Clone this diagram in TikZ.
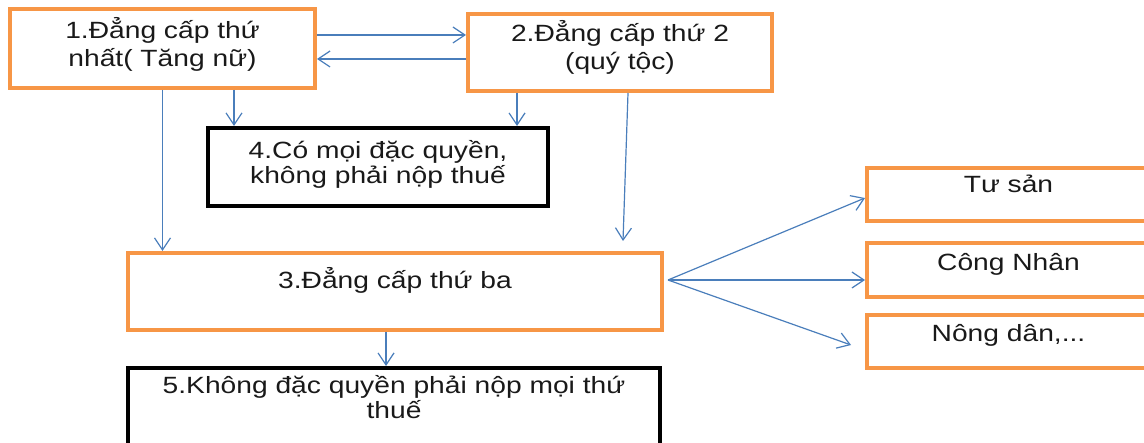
\documentclass[tikz,border=0pt]{standalone}
\usepackage{fontspec}
\setmainfont[FakeStretch=1.2]{Liberation Sans}
\usetikzlibrary{arrows.meta}

\definecolor{boxorange}{HTML}{F79646}
\definecolor{arrowblue}{HTML}{4A7EBB}

\begin{document}
\begin{tikzpicture}[x=1pt,y=-1pt,
        every node/.style={font=\fontsize{23.5}{28}\selectfont, text=black!90, align=center, inner sep=0pt},
        obox/.style={draw=boxorange, line width=4pt, rectangle, minimum width=#1},
        kbox/.style={draw=black, line width=4pt, rectangle, minimum width=#1},
        lift/.style 2 args={text height=#1, text depth=#2},
        link/.style={draw=arrowblue, line width=1.2pt, -{Straight Barb[length=12pt,width=16pt]}}]
        \useasboundingbox (0,0) rectangle (1144,443);
        \node[obox=305pt, minimum height=79pt, lift={42pt}{5pt}] (dc1) at (162.5,48.5) {1.Đẳng cấp thứ\\nhất( Tăng nữ)};
        \node[obox=304pt, minimum height=77pt, lift={40pt}{5pt}] (dc2) at (620,52.5) {2.Đẳng cấp thứ 2\\(quý tộc)};
        \node[kbox=340pt, minimum height=78pt, lift={39pt}{5pt}] (quyen4) at (378,167) {4.Có mọi đặc quyền,\\[-3pt]không phải nộp thuế};
        \node[obox=534pt, minimum height=77pt, lift={18pt}{23pt}] (dc3) at (395,291.5) {3.Đẳng cấp thứ ba};
        \node[kbox=532pt, minimum height=92pt, lift={15pt}{5pt}] (thue5) at (394,414) {5.Không đặc quyền phải nộp mọi thứ\\[-3pt]thuế};
        \node[obox=283pt, minimum height=53pt, lift={18pt}{21pt}] (tusan) at (1008.5,194.5) {Tư sản};
        \node[obox=283pt, minimum height=54pt, lift={18pt}{16pt}] (congnhan) at (1008.5,270) {Công Nhân};
        \node[obox=283pt, minimum height=53pt, lift={18pt}{17pt}] (nongdan) at (1008.5,341.5) {Nông dân,...};
        \draw[link] ([yshift=13.5pt]dc1.east) -- ([yshift=13.5pt]dc1.east -| dc2.west);
        \draw[link] ([yshift=-6.5pt]dc2.west) -- ([yshift=-6.5pt]dc2.west -| dc1.east);
        \draw[link] (dc1.south) -- (dc1.south |- dc3.north);
        \draw[link] ([xshift=71.5pt]dc1.south) -- ([xshift=71.5pt]dc1.south |- quyen4.north);
        \draw[link] ([xshift=-103pt]dc2.south) -- ([xshift=-103pt]dc2.south |- quyen4.north);
        \draw[link] ([xshift=8pt]dc2.south) -- ([xshift=228pt,yshift=10pt]dc3.north);
        \draw[link] ([xshift=-9pt]dc3.south) -- ([xshift=-9pt]dc3.south |- thue5.north);
        \coordinate (fan) at ([xshift=4pt,yshift=11.5pt]dc3.east);
        \draw[link] (fan) -- ([yshift=-3.5pt]tusan.west);
        \draw[link] (fan) -- ([yshift=-10pt]congnhan.west);
        \draw[link] (fan) -- ([xshift=-14pt,yshift=-3.5pt]nongdan.west);
\end{tikzpicture}
\end{document}
